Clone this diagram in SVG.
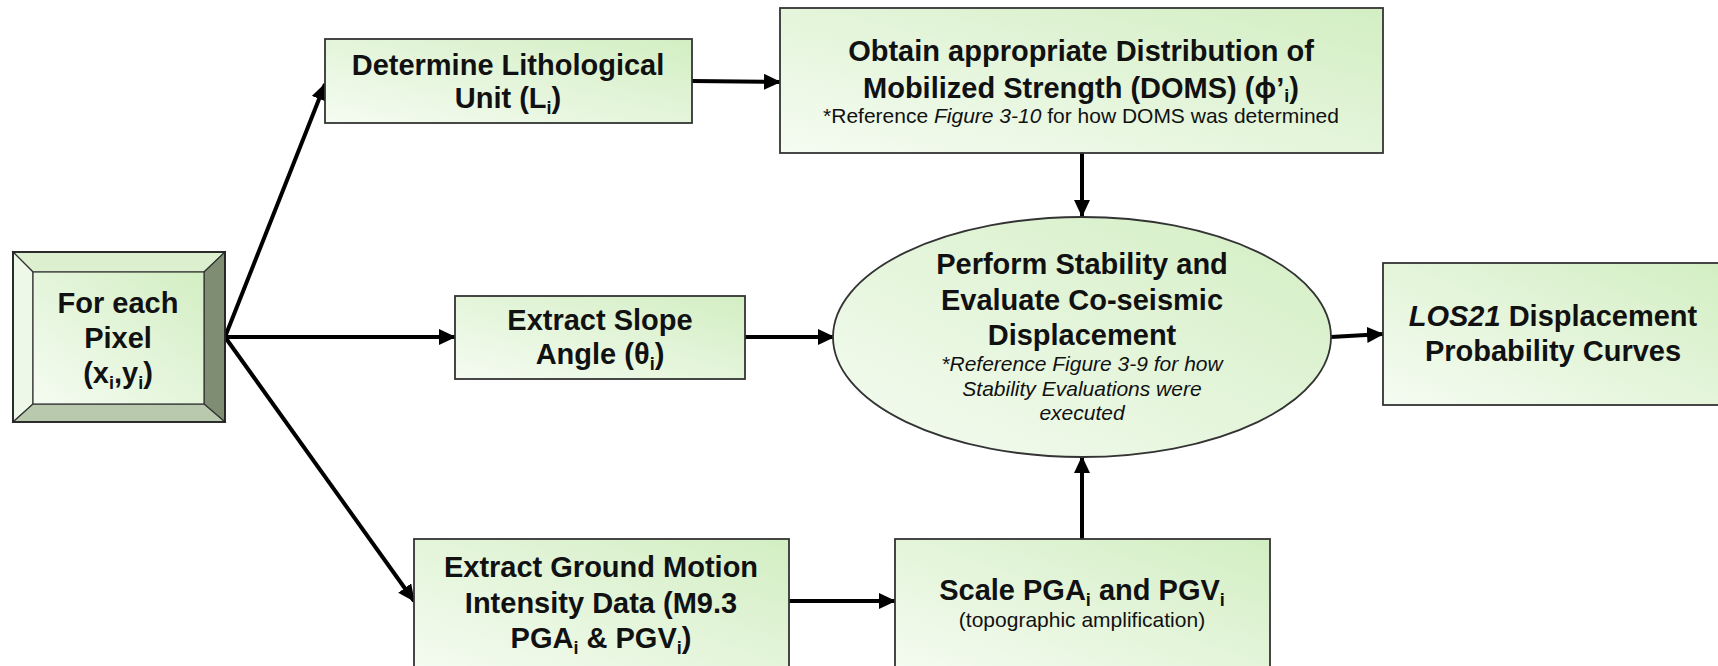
<svg xmlns="http://www.w3.org/2000/svg" width="1718" height="666" viewBox="0 0 1718 666">
<style>
.box{fill:url(#g);stroke:#333;stroke-width:1.8}
.t{font-family:"Liberation Sans",Arial,sans-serif;font-weight:bold;font-size:29px;fill:#111;text-anchor:middle}
.s{font-family:"Liberation Sans",Arial,sans-serif;font-size:21px;fill:#111;text-anchor:middle}
.it{font-style:italic}
.sub{font-size:18px}
.c{stroke:#000;stroke-width:4;fill:none;marker-end:url(#ah)}
</style>
<defs>
<linearGradient id="g" x1="0" y1="1" x2="1" y2="0">
<stop offset="0" stop-color="#f5fcf2"/>
<stop offset="1" stop-color="#d3eec3"/>
</linearGradient>
<marker id="ah" markerUnits="userSpaceOnUse" markerWidth="18" markerHeight="16" refX="16" refY="8" orient="auto">
<path d="M0,0 L17,8 L0,16 z" fill="#000"/>
</marker>
</defs>
<rect width="1718" height="666" fill="#fff"/>

<g id="connectors">
<line class="c" x1="225" y1="337" x2="325" y2="84"/>
<line class="c" x1="225" y1="337" x2="455" y2="337"/>
<line class="c" x1="225" y1="337" x2="414" y2="601"/>
<line class="c" x1="692" y1="81" x2="780" y2="82"/>
<line class="c" x1="1082" y1="153" x2="1082" y2="216"/>
<line class="c" x1="745" y1="337" x2="834" y2="337"/>
<line class="c" x1="789" y1="601" x2="895" y2="601"/>
<line class="c" x1="1082" y1="539" x2="1082" y2="457"/>
<line class="c" x1="1331" y1="337" x2="1383" y2="334"/>
</g>

<g id="pixel">
<polygon points="13,252 225,252 204,272 33,272" fill="#dcefcf" stroke="#333" stroke-width="1.2"/>
<polygon points="13,252 33,272 33,404 13,422" fill="#eef8e9" stroke="#333" stroke-width="1.2"/>
<polygon points="225,252 225,422 204,404 204,272" fill="#7f8d73" stroke="#333" stroke-width="1.2"/>
<polygon points="13,422 33,404 204,404 225,422" fill="#b9c9ad" stroke="#333" stroke-width="1.2"/>
<rect x="33" y="272" width="171" height="132" fill="url(#g)" stroke="#333" stroke-width="1.2"/>
<rect x="13" y="252" width="212" height="170" fill="none" stroke="#222" stroke-width="1.8"/>
<text class="t" x="118" y="313">For each</text>
<text class="t" x="118" y="348">Pixel</text>
<text class="t" x="118" y="383">(x<tspan class="sub" dy="6">i</tspan><tspan dy="-6">,y</tspan><tspan class="sub" dy="6">i</tspan><tspan dy="-6">)</tspan></text>
</g>

<g id="lith">
<rect class="box" x="325" y="39" width="367" height="84"/>
<text class="t" x="508" y="75">Determine Lithological</text>
<text class="t" x="508" y="108">Unit (L<tspan class="sub" dy="6">i</tspan><tspan dy="-6">)</tspan></text>
</g>

<g id="doms">
<rect class="box" x="780" y="8" width="603" height="145"/>
<text class="t" x="1081" y="61">Obtain appropriate Distribution of</text>
<text class="t" x="1081" y="98">Mobilized Strength (DOMS) (ϕ’<tspan class="sub" dy="4">i</tspan><tspan dy="-4">)</tspan></text>
<text class="s" x="1081" y="123">*Reference <tspan class="it">Figure 3-10</tspan> for how DOMS was determined</text>
</g>

<g id="slope">
<rect class="box" x="455" y="296" width="290" height="83"/>
<text class="t" x="600" y="330">Extract Slope</text>
<text class="t" x="600" y="364">Angle (θ<tspan class="sub" dy="6">i</tspan><tspan dy="-6">)</tspan></text>
</g>

<g id="stability">
<ellipse cx="1082" cy="337" rx="249" ry="120" fill="url(#g)" stroke="#333" stroke-width="1.8"/>
<text class="t" x="1082" y="274">Perform Stability and</text>
<text class="t" x="1082" y="310">Evaluate Co-seismic</text>
<text class="t" x="1082" y="345">Displacement</text>
<text class="s it" x="1082" y="371">*Reference Figure 3-9 for how</text>
<text class="s it" x="1082" y="396">Stability Evaluations were</text>
<text class="s it" x="1082" y="420">executed</text>
</g>

<g id="los21">
<rect class="box" x="1383" y="263" width="340" height="142"/>
<text class="t" x="1553" y="326"><tspan class="it">LOS21</tspan> Displacement</text>
<text class="t" x="1553" y="361">Probability Curves</text>
</g>

<g id="ground">
<rect class="box" x="414" y="539" width="375" height="135"/>
<text class="t" x="601" y="577">Extract Ground Motion</text>
<text class="t" x="601" y="613">Intensity Data (M9.3</text>
<text class="t" x="601" y="648">PGA<tspan class="sub" dy="6">i</tspan><tspan dy="-6"> &amp; PGV</tspan><tspan class="sub" dy="6">i</tspan><tspan dy="-6">)</tspan></text>
</g>

<g id="scale">
<rect class="box" x="895" y="539" width="375" height="135"/>
<text class="t" x="1082" y="600">Scale PGA<tspan class="sub" dy="6">i</tspan><tspan dy="-6"> and PGV</tspan><tspan class="sub" dy="6">i</tspan></text>
<text class="s" x="1082" y="627">(topographic amplification)</text>
</g>
</svg>
